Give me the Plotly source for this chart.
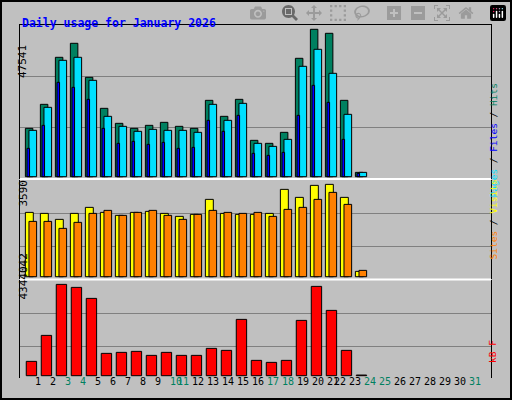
import plotly.graph_objects as go

days = list(range(1, 24))
hits = [15596, 23340, 38506, 43023, 32052, 22050, 17209, 15596, 16564, 17532, 16241, 15596, 24631, 19468, 24954, 11724, 10756, 14305, 38183, 47541, 46250, 24631, 1398]
files = [14951, 22372, 37538, 38506, 31084, 19468, 16241, 14628, 15273, 14951, 14951, 14305, 23340, 18177, 23663, 10756, 9788, 12046, 35602, 41087, 33343, 20113, 1398]
pages = [9142, 16564, 30439, 28826, 24954, 15596, 10756, 11401, 10433, 11078, 9142, 9465, 18177, 14628, 19791, 7529, 6884, 7852, 19791, 29471, 23985, 12046, 1076]
visits = [2501, 2462, 2229, 2462, 2696, 2501, 2385, 2501, 2540, 2462, 2346, 2424, 3007, 2462, 2424, 2424, 2462, 3396, 3085, 3551, 3590, 3085, 207]
sites = [2151, 2151, 1879, 2113, 2462, 2579, 2385, 2501, 2579, 2385, 2229, 2424, 2579, 2501, 2462, 2501, 2346, 2618, 2696, 3007, 3279, 2812, 246]
kbytes = [681695, 1918300, 4344042, 4201351, 3678167, 1062228, 1109792, 1157354, 967104, 1109792, 967104, 967104, 1300045, 1204917, 2679352, 729290, 634167, 729290, 2631789, 4248914, 3107409, 1204917, 31708]
all_days = list(range(1, 32))
weekends = {3, 4, 10, 11, 17, 18, 24, 25, 31}
max_labels = ["47541", "3590", "4344042"]

fig = go.Figure()
def bar(y, color, off, w, ax):
    fig.add_trace(go.Bar(x=days, y=y, offset=off, width=w, marker=dict(color=color, line=dict(color="black", width=1)),
                         xaxis="x", yaxis=ax, showlegend=False, hoverinfo="skip"))
bar(hits, "#008060", -0.51, 0.5, "y")
bar(files, "#00E0FF", -0.27, 0.51, "y")
bar(pages, "#0000FF", -0.4, 0.17, "y")
bar(visits, "#FFFF00", -0.51, 0.53, "y2")
bar(sites, "#FF8000", -0.27, 0.51, "y2")
bar(kbytes, "#FF0000", -0.45, 0.69, "y3")

ycommon = dict(showticklabels=False, showgrid=True, gridcolor="#808080", gridwidth=1, zeroline=False,
               showline=True, linecolor="black", mirror=True, ticks="")
fig.update_layout(
    width=512, height=400, margin=dict(l=20, r=21, t=25, b=22),
    paper_bgcolor="#C0C0C0", plot_bgcolor="#C0C0C0", barmode="overlay",
    font=dict(family="DejaVu Sans Mono", size=11, color="black"),
    xaxis=dict(range=[0.133, 31.53], showticklabels=False, showgrid=False, zeroline=False,
               showline=True, linecolor="black", mirror=True, ticks=""),
    yaxis=dict(domain=[0.5666, 1], range=[-419, 48928], tickvals=[15918, 32375], **ycommon),
    yaxis2=dict(domain=[0.2805, 0.5609], range=[-89, 3760], tickvals=[1166, 2462], **ycommon),
    yaxis3=dict(domain=[0, 0.2776], range=[-109400, 4552000], tickvals=[1411000, 2964700], **ycommon),
)
def px(x, y):
    return (x - 20) / 471, (378 - y) / 353
annots = []
for d in all_days:
    xp = (33 + 15 * (d - 1) - 20) / 471
    annots.append(dict(x=xp, y=px(0, 389)[1], xref="paper", yref="paper", text=str(d), showarrow=False,
                       font=dict(color="#008060" if d in weekends else "black", size=10)))
title_x, title_y = px(20, 14)
annots.append(dict(x=title_x, y=title_y, xref="paper", yref="paper", text="<b>Daily usage for January 2026</b>",
                   font=dict(color="#0000FF", size=11.5, family="DejaVu Sans Mono"), showarrow=False, xanchor="left"))
for lbl, yy in zip(max_labels, [43, 193, 302]):
    xx, yp = px(14, yy)
    annots.append(dict(x=xx, y=yp, xref="paper", yref="paper", text=lbl, textangle=-90, showarrow=False,
                       font=dict(size=11, color="black")))
right = [("<span style='color:#00E0FF'>Pages</span> / <span style='color:#0000FF'>Files</span> / <span style='color:#008060'>Hits</span>", 82),
         ("<span style='color:#FF8000'>Sites</span> / <span style='color:#FFFF00'>Visits</span>", 220),
         ("<span style='color:#FF0000'>kB F</span>", 365)]
for t, yy in right:
    xx, yp = px(500, yy)
    annots.append(dict(x=xx, y=yp, xref="paper", yref="paper", text=t, textangle=-90, showarrow=False,
                       font=dict(size=9.5, color="black")))
fig.update_layout(annotations=annots)
fig.add_shape(type="rect", xref="paper", yref="paper", x0=-19/471, x1=1 + 20/471,
              y0=-21/353, y1=1 + 24/353, line=dict(color="black", width=2))
fig.add_shape(type="line", xref="paper", yref="paper", x0=0, x1=1, y0=0.5636, y1=0.5636, line=dict(color="white", width=2))
fig.add_shape(type="line", xref="paper", yref="paper", x0=0, x1=1, y0=0.279, y1=0.279, line=dict(color="white", width=2))
fig.write_html("out.html", post_script="document.body.style.margin='0';document.body.style.overflow='hidden';")
